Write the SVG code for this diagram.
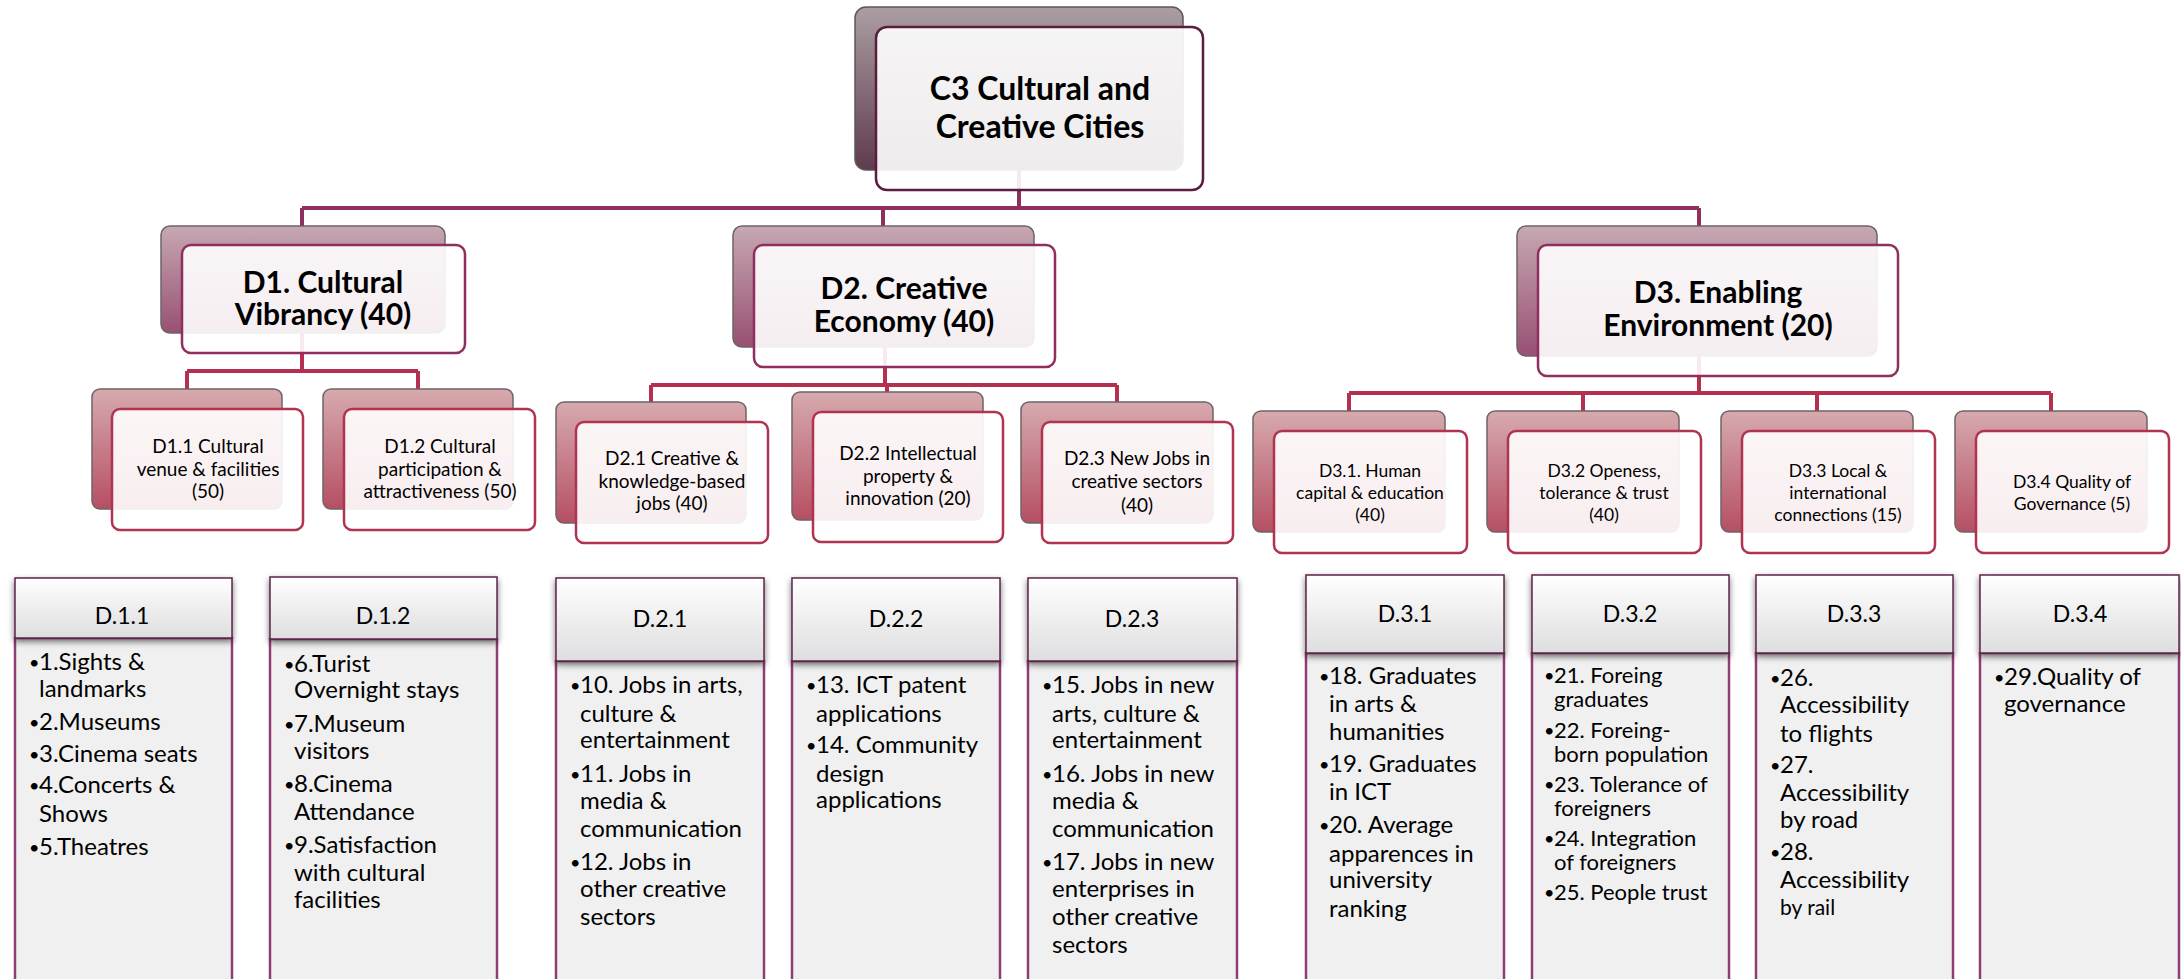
<svg xmlns="http://www.w3.org/2000/svg" width="2181" height="979" viewBox="0 0 2181 979">
<defs>
<linearGradient id="gTop" x1="0" y1="0" x2="0" y2="1"><stop offset="0" stop-color="#aa9ea3"/><stop offset="1" stop-color="#5f3b4d"/></linearGradient>
<linearGradient id="gL2" x1="0" y1="0" x2="0" y2="1"><stop offset="0" stop-color="#c6a8b3"/><stop offset="1" stop-color="#985073"/></linearGradient>
<linearGradient id="gL3" x1="0" y1="0" x2="0" y2="1"><stop offset="0" stop-color="#d6aaae"/><stop offset="1" stop-color="#b64f63"/></linearGradient>
<linearGradient id="gHead" x1="0" y1="0" x2="0" y2="1"><stop offset="0" stop-color="#ffffff"/><stop offset="1" stop-color="#dedddf"/></linearGradient>
<filter id="sh" x="-10%" y="-20%" width="120%" height="150%"><feDropShadow dx="0" dy="3" stdDeviation="3" flood-color="#000" flood-opacity="0.55"/></filter>
<style>
.c1{fill:none;stroke:#8e2f5e;stroke-width:4}
.c2{fill:none;stroke:#b5304f;stroke-width:4}
.bTop{fill:url(#gTop);stroke:#5e5559;stroke-width:1.5}
.bL2{fill:url(#gL2);stroke:#6e6468;stroke-width:1.5}
.bL3{fill:url(#gL3);stroke:#6e6468;stroke-width:1.5}
.fTop{fill:#fff;fill-opacity:0.9;stroke:#5a1d40;stroke-width:2.5}
.fL2{fill:#fff;fill-opacity:0.9;stroke:#8e2f5e;stroke-width:2.5}
.fL3{fill:#fff;fill-opacity:0.9;stroke:#b0334f;stroke-width:2.5}
.hd{fill:url(#gHead);stroke:#5c2448;stroke-width:1.5;filter:url(#sh)}
.bd{fill:#f0f0f0;stroke:#8f3d74;stroke-width:2.5}
text{font-family:Lato,"Liberation Sans",sans-serif;fill:#000}
.tTop{font-weight:bold;font-size:32px;text-anchor:middle}
.tL2{font-weight:bold;font-size:30px;text-anchor:middle}
.tL3{font-size:19px;text-anchor:middle}
.tL3b{font-size:17.5px;text-anchor:middle}
.tH{font-size:23px;text-anchor:middle}
.tB{font-size:24px}
.tS{font-size:22px}
.bu{font-size:18px}
</style>
</defs>
<rect width="2181" height="979" fill="#fff"/>

<g id="connectors">
<path class="c1" d="M1019 170V208M302 208H1699M302 208V226M883 208V226M1699 208V226"/>
<path class="c2" d="M302 333V371M187 371H418M187 371V389M418 371V389"/>
<path class="c2" d="M885 347V385M651 385H1117M651 385V402M887 385V392M1117 385V402"/>
<path class="c2" d="M1699 356V393M1349 393H2051M1349 393V411M1583 393V411M1817 393V411M2051 393V411"/>
</g>

<g id="c3">
<rect class="bTop" x="855" y="7" width="328" height="163" rx="11"/>
<rect class="fTop" x="876" y="27" width="327" height="163" rx="11"/>
<text class="tTop" x="1040" y="100">C3 Cultural and</text>
<text class="tTop" x="1040" y="138">Creative Cities</text>
</g>

<g id="d1">
<rect class="bL2" x="161" y="226" width="284" height="107" rx="9"/>
<rect class="fL2" x="182" y="245" width="283" height="108" rx="9"/>
<text class="tL2" x="323" y="293">D1. Cultural</text>
<text class="tL2" x="323" y="325">Vibrancy (40)</text>
</g>
<g id="d2">
<rect class="bL2" x="733" y="226" width="301" height="121" rx="9"/>
<rect class="fL2" x="754" y="245" width="301" height="122" rx="9"/>
<text class="tL2" x="904" y="299">D2. Creative</text>
<text class="tL2" x="904" y="332">Economy (40)</text>
</g>
<g id="d3">
<rect class="bL2" x="1517" y="226" width="360" height="130" rx="9"/>
<rect class="fL2" x="1538" y="245" width="360" height="131" rx="9"/>
<text class="tL2" x="1718" y="303">D3. Enabling</text>
<text class="tL2" x="1718" y="336">Environment (20)</text>
</g>

<g id="d1-1">
<rect class="bL3" x="92" y="389" width="190" height="120" rx="8"/>
<rect class="fL3" x="112" y="409" width="191" height="121" rx="8"/>
<text class="tL3" x="208" y="453">D1.1 Cultural</text>
<text class="tL3" x="208" y="476">venue &amp; facilities</text>
<text class="tL3" x="208" y="498">(50)</text>
</g>
<g id="d1-2">
<rect class="bL3" x="323" y="389" width="190" height="120" rx="8"/>
<rect class="fL3" x="344" y="409" width="191" height="121" rx="8"/>
<text class="tL3" x="440" y="453">D1.2 Cultural</text>
<text class="tL3" x="440" y="476">participation &amp;</text>
<text class="tL3" x="440" y="498">attractiveness (50)</text>
</g>
<g id="d2-1">
<rect class="bL3" x="556" y="402" width="190" height="121" rx="8"/>
<rect class="fL3" x="576" y="422" width="192" height="121" rx="8"/>
<text class="tL3" x="672" y="465">D2.1 Creative &amp;</text>
<text class="tL3" x="672" y="488">knowledge-based</text>
<text class="tL3" x="672" y="510">jobs (40)</text>
</g>
<g id="d2-2">
<rect class="bL3" x="792" y="392" width="191" height="128" rx="8"/>
<rect class="fL3" x="813" y="412" width="190" height="130" rx="8"/>
<text class="tL3" x="908" y="460">D2.2 Intellectual</text>
<text class="tL3" x="908" y="483">property &amp;</text>
<text class="tL3" x="908" y="505">innovation (20)</text>
</g>
<g id="d2-3">
<rect class="bL3" x="1021" y="402" width="192" height="121" rx="8"/>
<rect class="fL3" x="1042" y="422" width="191" height="121" rx="8"/>
<text class="tL3" x="1137" y="465">D2.3 New Jobs in</text>
<text class="tL3" x="1137" y="488">creative sectors</text>
<text class="tL3" x="1137" y="512">(40)</text>
</g>
<g id="d3-1">
<rect class="bL3" x="1253" y="411" width="192" height="121" rx="8"/>
<rect class="fL3" x="1274" y="431" width="193" height="122" rx="8"/>
<text class="tL3b" x="1370" y="477">D3.1. Human</text>
<text class="tL3b" x="1370" y="499">capital &amp; education</text>
<text class="tL3b" x="1370" y="521">(40)</text>
</g>
<g id="d3-2">
<rect class="bL3" x="1487" y="411" width="192" height="121" rx="8"/>
<rect class="fL3" x="1508" y="431" width="193" height="122" rx="8"/>
<text class="tL3b" x="1604" y="477">D3.2 Openess,</text>
<text class="tL3b" x="1604" y="499">tolerance &amp; trust</text>
<text class="tL3b" x="1604" y="521">(40)</text>
</g>
<g id="d3-3">
<rect class="bL3" x="1721" y="411" width="192" height="121" rx="8"/>
<rect class="fL3" x="1742" y="431" width="193" height="122" rx="8"/>
<text class="tL3b" x="1838" y="477">D3.3 Local &amp;</text>
<text class="tL3b" x="1838" y="499">international</text>
<text class="tL3b" x="1838" y="521">connections (15)</text>
</g>
<g id="d3-4">
<rect class="bL3" x="1955" y="411" width="192" height="121" rx="8"/>
<rect class="fL3" x="1976" y="431" width="193" height="122" rx="8"/>
<text class="tL3b" x="2072" y="488">D3.4 Quality of</text>
<text class="tL3b" x="2072" y="510">Governance (5)</text>
</g>

<g id="D.1.1">
<rect class="bd" x="15" y="638" width="217" height="345"/>
<rect class="hd" x="15" y="578" width="217" height="60"/>
<text class="tH" x="122" y="624">D.1.1</text>
<text class="tB"><tspan class="bu" x="29" y="669">•</tspan><tspan x="39" y="670">1.Sights &amp;</tspan><tspan x="39" y="697">landmarks</tspan><tspan class="bu" x="29" y="729">•</tspan><tspan x="39" y="730">2.Museums</tspan><tspan class="bu" x="29" y="761">•</tspan><tspan x="39" y="762">3.Cinema seats</tspan><tspan class="bu" x="29" y="792">•</tspan><tspan x="39" y="793">4.Concerts &amp;</tspan><tspan x="39" y="822">Shows</tspan><tspan class="bu" x="29" y="854">•</tspan><tspan x="39" y="855">5.Theatres</tspan></text>
</g>
<g id="D.1.2">
<rect class="bd" x="270" y="639" width="227" height="345"/>
<rect class="hd" x="270" y="577" width="227" height="62"/>
<text class="tH" x="383" y="624">D.1.2</text>
<text class="tB"><tspan class="bu" x="284" y="671">•</tspan><tspan x="294" y="672">6.Turist</tspan><tspan x="294" y="698">Overnight stays</tspan><tspan class="bu" x="284" y="731">•</tspan><tspan x="294" y="732">7.Museum</tspan><tspan x="294" y="759">visitors</tspan><tspan class="bu" x="284" y="791">•</tspan><tspan x="294" y="792">8.Cinema</tspan><tspan x="294" y="820">Attendance</tspan><tspan class="bu" x="284" y="852">•</tspan><tspan x="294" y="853">9.Satisfaction</tspan><tspan x="294" y="881">with cultural</tspan><tspan x="294" y="908">facilities</tspan></text>
</g>
<g id="D.2.1">
<rect class="bd" x="556" y="661" width="208" height="322"/>
<rect class="hd" x="556" y="578" width="208" height="83"/>
<text class="tH" x="660" y="627">D.2.1</text>
<text class="tB"><tspan class="bu" x="570" y="692">•</tspan><tspan x="580" y="693">10. Jobs in arts,</tspan><tspan x="580" y="722">culture &amp;</tspan><tspan x="580" y="748">entertainment</tspan><tspan class="bu" x="570" y="781">•</tspan><tspan x="580" y="782">11. Jobs in</tspan><tspan x="580" y="809">media &amp;</tspan><tspan x="580" y="837">communication</tspan><tspan class="bu" x="570" y="869">•</tspan><tspan x="580" y="870">12. Jobs in</tspan><tspan x="580" y="897">other creative</tspan><tspan x="580" y="925">sectors</tspan></text>
</g>
<g id="D.2.2">
<rect class="bd" x="792" y="661" width="208" height="322"/>
<rect class="hd" x="792" y="578" width="208" height="83"/>
<text class="tH" x="896" y="627">D.2.2</text>
<text class="tB"><tspan class="bu" x="806" y="692">•</tspan><tspan x="816" y="693">13. ICT patent</tspan><tspan x="816" y="722">applications</tspan><tspan class="bu" x="806" y="752">•</tspan><tspan x="816" y="753">14. Community</tspan><tspan x="816" y="782">design</tspan><tspan x="816" y="808">applications</tspan></text>
</g>
<g id="D.2.3">
<rect class="bd" x="1028" y="661" width="209" height="322"/>
<rect class="hd" x="1028" y="578" width="209" height="83"/>
<text class="tH" x="1132" y="627">D.2.3</text>
<text class="tB"><tspan class="bu" x="1042" y="692">•</tspan><tspan x="1052" y="693">15. Jobs in new</tspan><tspan x="1052" y="722">arts, culture &amp;</tspan><tspan x="1052" y="748">entertainment</tspan><tspan class="bu" x="1042" y="781">•</tspan><tspan x="1052" y="782">16. Jobs in new</tspan><tspan x="1052" y="809">media &amp;</tspan><tspan x="1052" y="837">communication</tspan><tspan class="bu" x="1042" y="869">•</tspan><tspan x="1052" y="870">17. Jobs in new</tspan><tspan x="1052" y="897">enterprises in</tspan><tspan x="1052" y="925">other creative</tspan><tspan x="1052" y="953">sectors</tspan></text>
</g>
<g id="D.3.1">
<rect class="bd" x="1306" y="653" width="198" height="330"/>
<rect class="hd" x="1306" y="575" width="198" height="78"/>
<text class="tH" x="1405" y="622">D.3.1</text>
<text class="tB"><tspan class="bu" x="1319" y="683">•</tspan><tspan x="1329" y="684">18. Graduates</tspan><tspan x="1329" y="712">in arts &amp;</tspan><tspan x="1329" y="740">humanities</tspan><tspan class="bu" x="1319" y="771">•</tspan><tspan x="1329" y="772">19. Graduates</tspan><tspan x="1329" y="800">in ICT</tspan><tspan class="bu" x="1319" y="832">•</tspan><tspan x="1329" y="833">20. Average</tspan><tspan x="1329" y="862">apparences in</tspan><tspan x="1329" y="888">university</tspan><tspan x="1329" y="917">ranking</tspan></text>
</g>
<g id="D.3.2">
<rect class="bd" x="1532" y="653" width="197" height="330"/>
<rect class="hd" x="1532" y="575" width="197" height="78"/>
<text class="tH" x="1630" y="622">D.3.2</text>
<text class="tS"><tspan class="bu" x="1544" y="682">•</tspan><tspan x="1554" y="683">21. Foreing</tspan><tspan x="1554" y="707">graduates</tspan><tspan class="bu" x="1544" y="737">•</tspan><tspan x="1554" y="738">22. Foreing-</tspan><tspan x="1554" y="762">born population</tspan><tspan class="bu" x="1544" y="791">•</tspan><tspan x="1554" y="792">23. Tolerance of</tspan><tspan x="1554" y="816">foreigners</tspan><tspan class="bu" x="1544" y="845">•</tspan><tspan x="1554" y="846">24. Integration</tspan><tspan x="1554" y="870">of foreigners</tspan><tspan class="bu" x="1544" y="899">•</tspan><tspan x="1554" y="900">25. People trust</tspan></text>
</g>
<g id="D.3.3">
<rect class="bd" x="1756" y="653" width="197" height="330"/>
<rect class="hd" x="1756" y="575" width="197" height="78"/>
<text class="tH" x="1854" y="622">D.3.3</text>
<text class="tB"><tspan class="bu" x="1770" y="685">•</tspan><tspan x="1780" y="686">26.</tspan><tspan x="1780" y="713">Accessibility</tspan><tspan x="1780" y="742">to flights</tspan><tspan class="bu" x="1770" y="772">•</tspan><tspan x="1780" y="773">27.</tspan><tspan x="1780" y="801">Accessibility</tspan><tspan x="1780" y="828">by road</tspan><tspan class="bu" x="1770" y="859">•</tspan><tspan x="1780" y="860">28.</tspan><tspan x="1780" y="888">Accessibility</tspan><tspan x="1780" y="915" font-size="21">by rail</tspan></text>
</g>
<g id="D.3.4">
<rect class="bd" x="1980" y="653" width="199" height="330"/>
<rect class="hd" x="1980" y="575" width="199" height="78"/>
<text class="tH" x="2080" y="622">D.3.4</text>
<text class="tB"><tspan class="bu" x="1994" y="684">•</tspan><tspan x="2004" y="685">29.Quality of</tspan><tspan x="2004" y="712">governance</tspan></text>
</g>
</svg>
